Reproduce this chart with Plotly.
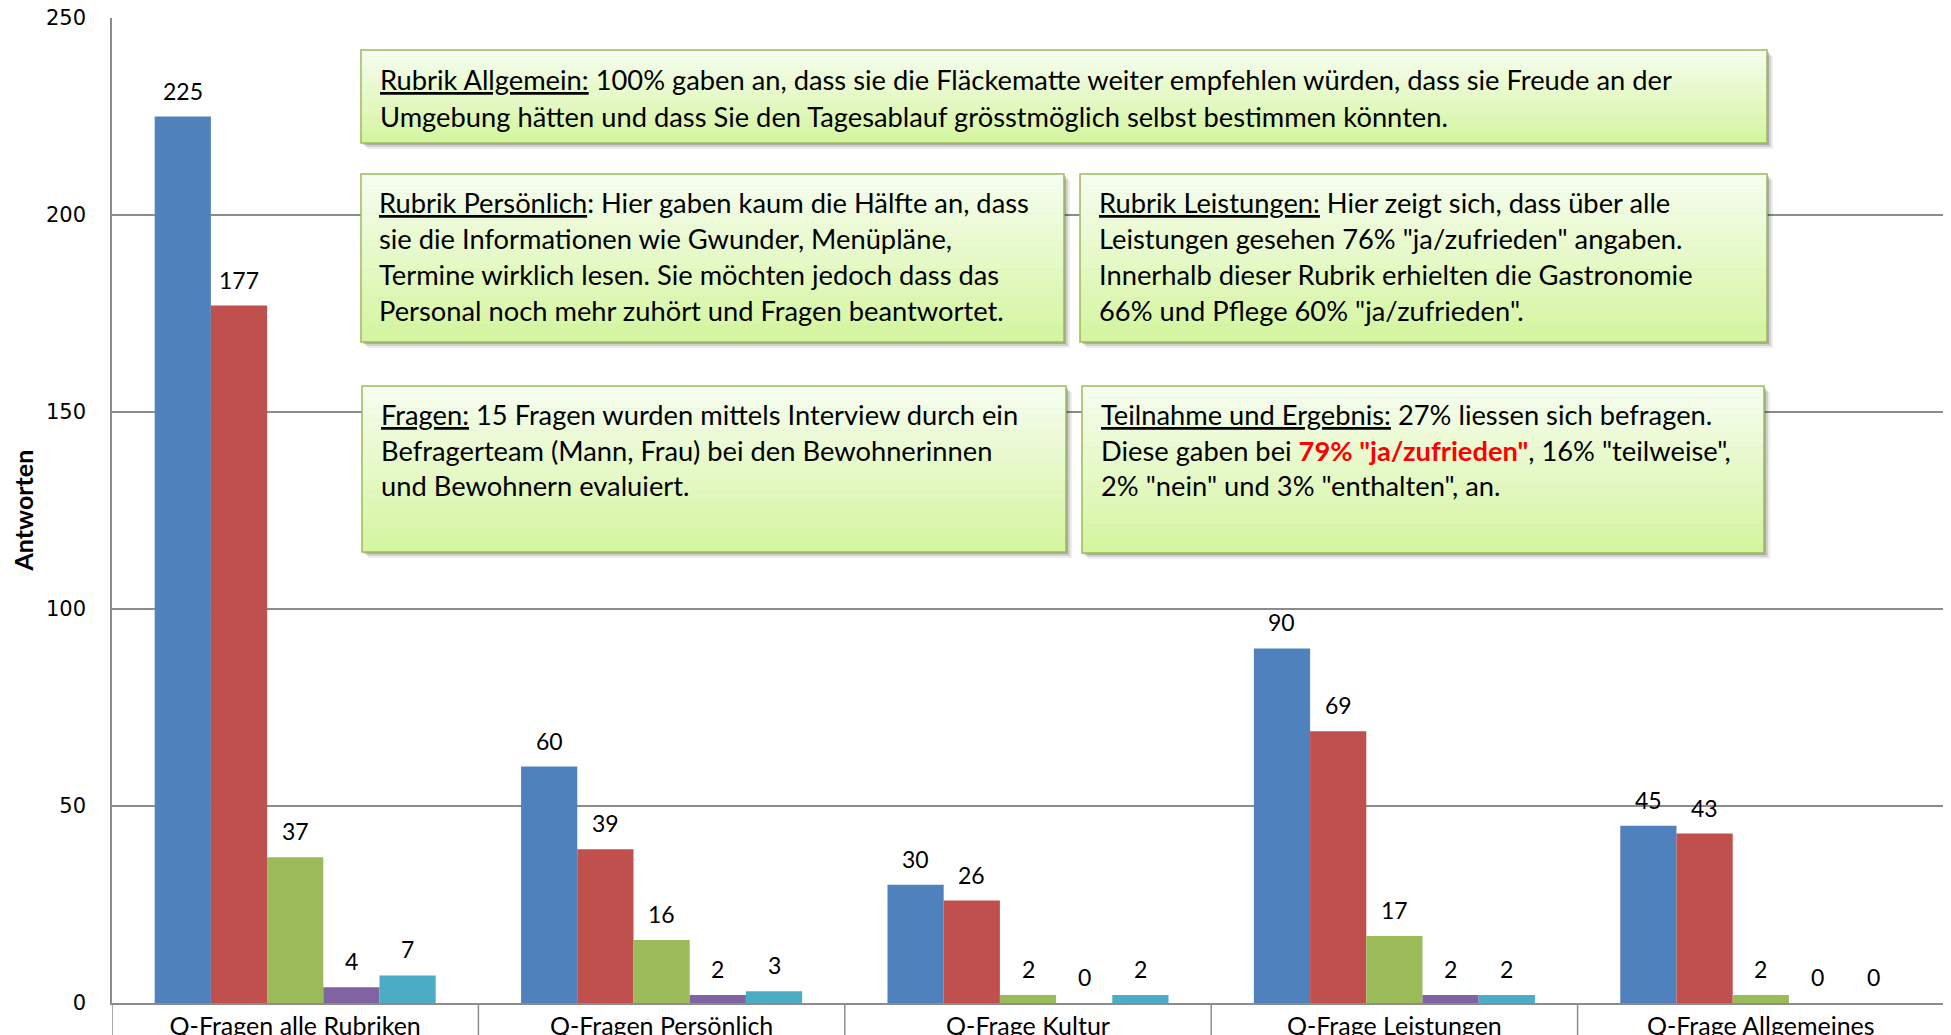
import plotly.graph_objects as go

# ---------------- data ----------------
categories = ["Q-Fragen alle Rubriken", "Q-Fragen Persönlich", "Q-Frage Kultur",
              "Q-Frage Leistungen", "Q-Frage Allgemeines"]
series_names = ["Total Antworten", "ja/zufrieden", "teilweise", "nein", "enthalten"]
total_vals = [225, 60, 30, 90, 45]
ja_vals = [177, 39, 26, 69, 43]
teilweise_vals = [37, 16, 2, 17, 2]
nein_vals = [4, 2, 0, 2, 0]
enthalten_vals = [7, 3, 2, 2, 0]
series_values = [total_vals, ja_vals, teilweise_vals, nein_vals, enthalten_vals]
colors = ["#4F81BD", "#C0504D", "#9BBB59", "#8064A2", "#4BACC6"]
y_ticks = [0, 50, 100, 150, 200, 250]

# ---------------- geometry helpers (reference pixels -> paper) ----------------
BODY = 8  # default page body margin
FW, FH = 1951 - BODY, 1035 - BODY
L, R, T, B = 112, 1944, 18, 1003
W, H = R - L, B - T


def px(x):
    return (x - L) / W


def py(y):
    return (B - y) / H


BARGAP = 0.233
n_series = len(series_values)
bar_w = (1 - BARGAP) / n_series

fig = go.Figure()
for name, vals, col in zip(series_names, series_values, colors):
    fig.add_trace(go.Bar(x=categories, y=vals, name=name, marker_color=col,
                         marker_line_width=0, showlegend=False))

# data labels
annotations = []
for j, vals in enumerate(series_values):
    off = -(1 - BARGAP) / 2 + (j + 0.5) * bar_w
    for i, v in enumerate(vals):
        annotations.append(dict(x=i + off, y=v, xref="x", yref="y", text=str(v),
                                showarrow=False, yanchor="middle", yshift=26,
                                font=dict(family="Lato", size=23, color="#000")))

# y-axis title
annotations.append(dict(x=px(22), y=0.5, xref="paper", yref="paper", text="<b>Antworten</b>",
                        textangle=-90, showarrow=False, xanchor="center", yanchor="middle",
                        font=dict(family="Lato", size=25, color="#000")))

shapes = []
# category dividers below the axis
for k in range(len(categories) + 1):
    shapes.append(dict(type="line", xref="x", yref="paper", x0=k - 0.5, x1=k - 0.5,
                       y0=0, y1=-0.05, line=dict(color="#8c8c8c", width=1.5), layer="above"))

# text boxes
boxes = [
    dict(x0=361, x1=1767, y0=50, y1=143, left=378, lines=[
        (80, "<u>Rubrik Allgemein:</u> 100% gaben an, dass sie die Fläckematte weiter empfehlen würden, dass sie Freude an der"),
        (116, "Umgebung hätten und dass Sie den Tagesablauf grösstmöglich selbst bestimmen könnten."),
    ]),
    dict(x0=361, x1=1064, y0=174, y1=342, left=377, lines=[
        (202, "<u>Rubrik Persönlich</u>: Hier gaben kaum die Hälfte an, dass"),
        (238, "sie die Informationen wie Gwunder, Menüpläne,"),
        (274, "Termine wirklich lesen. Sie möchten jedoch dass das"),
        (310, "Personal noch mehr zuhört und Fragen beantwortet."),
    ]),
    dict(x0=1080, x1=1767, y0=174, y1=342, left=1097, lines=[
        (202, "<u>Rubrik Leistungen:</u> Hier zeigt sich, dass über alle"),
        (238, "Leistungen gesehen 76% \"ja/zufrieden\" angaben."),
        (274, "Innerhalb dieser Rubrik erhielten die Gastronomie"),
        (310, "66% und Pflege 60% \"ja/zufrieden\"."),
    ]),
    dict(x0=362, x1=1066, y0=386, y1=552, left=379, lines=[
        (414, "<u>Fragen:</u> 15 Fragen wurden mittels Interview durch ein"),
        (450, "Befragerteam (Mann, Frau) bei den Bewohnerinnen"),
        (486, "und Bewohnern evaluiert."),
    ]),
    dict(x0=1082, x1=1764, y0=386, y1=553, left=1099, lines=[
        (414, "<u>Teilnahme und Ergebnis:</u> 27% liessen sich befragen."),
        (450, "Diese gaben bei <b><span style='color:#FF0000'>79% \"ja/zufrieden\"</span></b>, 16% \"teilweise\","),
        (486, "2% \"nein\" und 3% \"enthalten\", an."),
    ]),
]

top_c = (246, 253, 239)
bot_c = (213, 245, 160)
NB = 30
for bx in boxes:
    x0, x1, y0, y1 = bx["x0"], bx["x1"], bx["y0"], bx["y1"]
    # shadow
    for d, a in [(6, 0.07), (4, 0.12), (2, 0.18)]:
        shapes.append(dict(type="rect", xref="paper", yref="paper",
                           x0=px(x0 + d), x1=px(x1 + d), y0=py(y1 + d), y1=py(y0 + d),
                           fillcolor=f"rgba(0,0,0,{a})", line_width=0, layer="above"))
    # gradient fill
    for k in range(NB):
        t = k / (NB - 1)
        c = tuple(round(top_c[m] + (bot_c[m] - top_c[m]) * t) for m in range(3))
        ya = y0 + (y1 - y0) * k / NB
        yb = y0 + (y1 - y0) * (k + 1) / NB + 0.6
        shapes.append(dict(type="rect", xref="paper", yref="paper",
                           x0=px(x0), x1=px(x1), y0=py(min(yb, y1)), y1=py(ya),
                           fillcolor=f"rgb{c}", line_width=0, layer="above"))
    # border
    shapes.append(dict(type="rect", xref="paper", yref="paper",
                       x0=px(x0), x1=px(x1), y0=py(y1), y1=py(y0),
                       fillcolor="rgba(0,0,0,0)", line=dict(color="#9BBB59", width=1.5),
                       layer="above"))
    for (yy, txt) in bx["lines"]:
        annotations.append(dict(x=px(bx["left"]), y=py(yy), xref="paper", yref="paper",
                                text=txt, showarrow=False, xanchor="left", yanchor="middle",
                                font=dict(family="Lato", size=27.3, color="#000")))

fig.update_layout(
    width=FW, height=FH,
    margin=dict(l=L - BODY, r=FW - (R - BODY), t=T - BODY, b=FH - (B - BODY), autoexpand=False),
    paper_bgcolor="white", plot_bgcolor="white",
    barmode="group", bargap=BARGAP, bargroupgap=0,
    annotations=annotations, shapes=shapes,
    xaxis=dict(type="category", showgrid=False, showline=True, linecolor="#8c8c8c", linewidth=1.5,
               ticks="", tickfont=dict(family="Lato", size=25, color="#000"),
               ticklabeloverflow="allow",
               range=[-0.5, len(categories) - 0.5], fixedrange=True),
    yaxis=dict(range=[0, 250], tickvals=y_ticks, showgrid=True, gridcolor="#8c8c8c", gridwidth=1.5,
               showline=True, linecolor="#8c8c8c", linewidth=1.5, zeroline=False, ticks="",
               ticklabelstandoff=20, ticklabeloverflow="allow",
               tickfont=dict(family="DejaVu Sans", size=21, color="#000"), fixedrange=True),
)

fig.write_html("out.html")
